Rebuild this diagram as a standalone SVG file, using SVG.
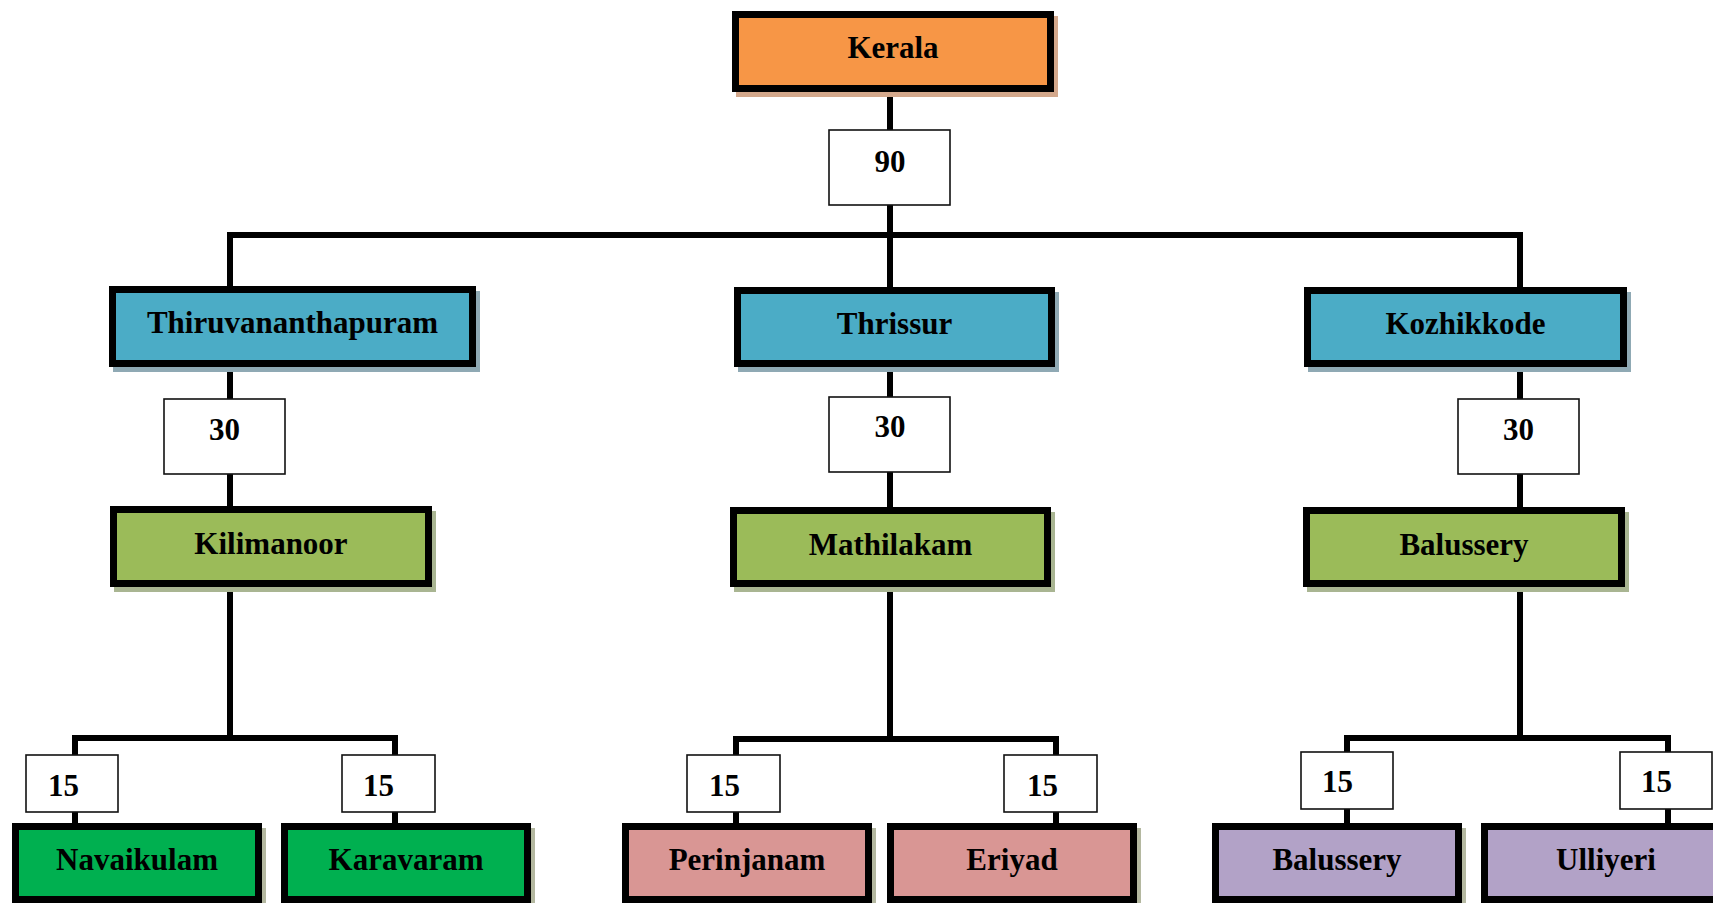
<svg xmlns="http://www.w3.org/2000/svg" width="1713" height="903" viewBox="0 0 1713 903">
<style>
.conn{fill:none;stroke:#000;stroke-width:6;stroke-linejoin:miter;stroke-linecap:butt}
.box{stroke:#000;stroke-width:7}
.lbl{fill:#fff;stroke:#111;stroke-width:1.6}
.t{font-family:"Liberation Serif","Times New Roman",serif;font-weight:bold;font-size:31px;fill:#000}
.c{text-anchor:middle}
.orange{fill:#f79646}.blue{fill:#4bacc6}.olive{fill:#9bbb59}.green{fill:#00b050}.pink{fill:#d99694}.purple{fill:#b2a2c7}
.sh-o{fill:#d3a88c}.sh-b{fill:#8fa9b4}.sh-g{fill:#a9b592}.sh-l{fill:#b4b8a0}
</style>
<rect width="1713" height="903" fill="#fff"/>
<g id="connectors">
<path class="conn" d="M890,92 V287"/>
<path class="conn" d="M230,287 V235 H1520 V288"/>
<path class="conn" d="M230,367 V507"/>
<path class="conn" d="M890,367 V508"/>
<path class="conn" d="M1520,367 V508"/>
<path class="conn" d="M230,587 V738"/>
<path class="conn" d="M890,587 V739"/>
<path class="conn" d="M1520,587 V738"/>
<path class="conn" d="M75,824 V738 H395 V824"/>
<path class="conn" d="M736,824 V739 H1056 V824"/>
<path class="conn" d="M1347,824 V738 H1668 V824"/>
</g>
<g id="label-90"><rect class="lbl" x="829" y="130" width="121" height="75"/><text class="t c" x="890" y="172">90</text></g>
<g id="label-30-tvm"><rect class="lbl" x="164" y="399" width="121" height="75"/><text class="t c" x="224.5" y="440">30</text></g>
<g id="label-30-tsr"><rect class="lbl" x="829" y="397" width="121" height="75"/><text class="t c" x="890" y="437">30</text></g>
<g id="label-30-kzd"><rect class="lbl" x="1458" y="399" width="121" height="75"/><text class="t c" x="1518.5" y="440">30</text></g>
<g id="label-15-a"><rect class="lbl" x="26" y="755" width="92" height="57"/><text class="t" x="48" y="796">15</text></g>
<g id="label-15-b"><rect class="lbl" x="342" y="755" width="93" height="57"/><text class="t" x="363" y="796">15</text></g>
<g id="label-15-c"><rect class="lbl" x="687" y="755" width="93" height="57"/><text class="t" x="709" y="796">15</text></g>
<g id="label-15-d"><rect class="lbl" x="1004" y="755" width="93" height="57"/><text class="t" x="1027" y="796">15</text></g>
<g id="label-15-e"><rect class="lbl" x="1301" y="752" width="92" height="57"/><text class="t" x="1322" y="792">15</text></g>
<g id="label-15-f"><rect class="lbl" x="1620" y="752" width="92" height="57"/><text class="t" x="1641" y="792">15</text></g>

<g id="kerala"><rect class="sh-o" x="736" y="16" width="322" height="81"/><rect class="box orange" x="735.5" y="14.5" width="315" height="74"/><text class="t c" x="893" y="58">Kerala</text></g>

<g id="thiruvananthapuram"><rect class="sh-b" x="113" y="291" width="367" height="81"/><rect class="box blue" x="112.5" y="289.5" width="360" height="74"/><text class="t c" x="292.5" y="333">Thiruvananthapuram</text></g>
<g id="thrissur"><rect class="sh-b" x="738" y="292" width="321" height="80"/><rect class="box blue" x="737.5" y="290.5" width="314" height="73"/><text class="t c" x="894.5" y="334">Thrissur</text></g>
<g id="kozhikkode"><rect class="sh-b" x="1308" y="292" width="323" height="80"/><rect class="box blue" x="1307.5" y="290.5" width="316" height="73"/><text class="t c" x="1465.5" y="334">Kozhikkode</text></g>

<g id="kilimanoor"><rect class="sh-g" x="114" y="511" width="322" height="81"/><rect class="box olive" x="113.5" y="509.5" width="315" height="74"/><text class="t c" x="271" y="554">Kilimanoor</text></g>
<g id="mathilakam"><rect class="sh-g" x="734" y="512" width="321" height="80"/><rect class="box olive" x="733.5" y="510.5" width="314" height="73"/><text class="t c" x="890.5" y="555">Mathilakam</text></g>
<g id="balussery-mid"><rect class="sh-g" x="1307" y="512" width="322" height="80"/><rect class="box olive" x="1306.5" y="510.5" width="315" height="73"/><text class="t c" x="1464" y="555">Balussery</text></g>

<g id="navaikulam"><rect class="sh-l" x="16" y="828" width="250" height="80"/><rect class="box green" x="15.5" y="826.5" width="243" height="73"/><text class="t c" x="137" y="870">Navaikulam</text></g>
<g id="karavaram"><rect class="sh-l" x="285" y="828" width="250" height="80"/><rect class="box green" x="284.5" y="826.5" width="243" height="73"/><text class="t c" x="406" y="870">Karavaram</text></g>
<g id="perinjanam"><rect class="sh-l" x="626" y="828" width="250" height="80"/><rect class="box pink" x="625.5" y="826.5" width="243" height="73"/><text class="t c" x="747" y="870">Perinjanam</text></g>
<g id="eriyad"><rect class="sh-l" x="891" y="828" width="250" height="80"/><rect class="box pink" x="890.5" y="826.5" width="243" height="73"/><text class="t c" x="1012" y="870">Eriyad</text></g>
<g id="balussery-leaf"><rect class="sh-l" x="1216" y="828" width="250" height="80"/><rect class="box purple" x="1215.5" y="826.5" width="243" height="73"/><text class="t c" x="1337" y="870">Balussery</text></g>
<g id="ulliyeri"><rect class="sh-l" x="1485" y="828" width="250" height="80"/><rect class="box purple" x="1484.5" y="826.5" width="243" height="73"/><text class="t c" x="1606" y="870">Ulliyeri</text></g>
</svg>
